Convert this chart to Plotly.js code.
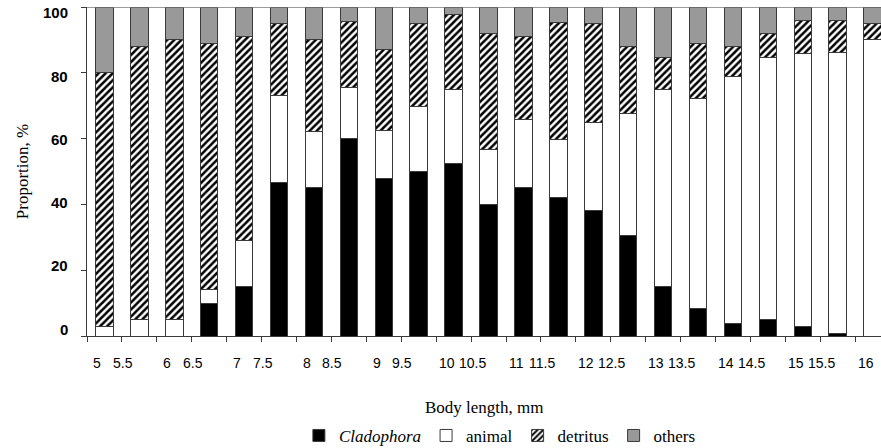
<!DOCTYPE html>
<html>
<head>
<meta charset="utf-8">
<script src="https://cdn.plot.ly/plotly-3.0.1.min.js"></script>
<style>html,body{margin:0;padding:0;background:#fff;}#chart{width:881px;height:448px;}</style>
</head>
<body>
<div id="chart"></div>
<script>
// Body length categories (mm)
const bodyLength = [5, 5.5, 6, 6.5, 7, 7.5, 8, 8.5, 9, 9.5, 10, 10.5, 11, 11.5, 12, 12.5, 13, 13.5, 14, 14.5, 15, 15.5, 16];
const categories = bodyLength.map(String);
// Proportions, %
const cladophora = [0, 0, 0, 10, 15, 46.7, 45, 60, 48, 50, 52.3, 40, 45, 42, 38, 30.6, 15, 8.4, 3.9, 4.9, 3, 0.9, 0];
const animal     = [3, 5, 5, 4, 14, 26.3, 17.3, 15.4, 14.6, 19.9, 22.6, 16.8, 20.9, 17.8, 27, 37.1, 59.9, 63.8, 75.1, 79.8, 83, 85.3, 90.1];
const detritus   = [77, 83, 85, 75, 62, 22, 27.7, 20.1, 24.6, 25.2, 22.8, 35.1, 25.2, 35.5, 30.1, 20.3, 9.9, 16.7, 9, 7.3, 9.9, 9.7, 5];
const others     = [20, 12, 10, 11, 9, 5, 10, 4.5, 12.8, 4.9, 2.3, 8.1, 8.9, 4.7, 4.9, 12, 15.2, 11.1, 12, 8, 4.1, 4.1, 4.9];
// Tick labels
const tickLabels = ["5","5.5","6","6.5","7","7.5","8","8.5","9","9.5","10","10.5","11","11.5","12","12.5","13","13.5","14","14.5","15","15.5","16"];
const yTicks = [0, 20, 40, 60, 80, 100];
const seriesNames = ['Cladophora', 'animal', 'detritus', 'others'];

const serif = 'Liberation Serif';
const sans = 'Liberation Sans';
const lineStyle = {color: '#3a3a3a', width: 1};

const traces = [
  {name: '<i>' + seriesNames[0] + '</i>', y: cladophora, marker: {color: '#000000', line: lineStyle}},
  {name: seriesNames[1], y: animal, marker: {color: '#ffffff', line: lineStyle}},
  {name: seriesNames[2], y: detritus, marker: {color: '#ffffff', line: lineStyle,
      pattern: {shape: '/', fgcolor: '#000000', bgcolor: '#ffffff', size: 5, solidity: 0.5}}},
  {name: seriesNames[3], y: others, marker: {color: '#999999', line: lineStyle}}
].map(t => Object.assign({type: 'bar', x: categories, hoverinfo: 'skip'}, t));

// label placement (layout only): the original figure's labels sit in pairs / slightly compressed
const labelPos = bodyLength.map(v => Number.isInteger(v) ? 2 * (v - 5) - 0.2 : 2 * (v - 5.5) + 0.53);
const xLabelAnn = tickLabels.map((t, i) => ({
  text: t, xref: 'x', yref: 'paper', x: labelPos[i], y: -0.082, xanchor: 'center', yanchor: 'middle',
  showarrow: false, font: {family: sans, size: 14, color: '#000'}
}));
const yLabelAnn = yTicks.map(v => ({
  text: String(v), xref: 'paper', yref: 'y', x: -0.021, y: v * 0.961 + 2.1, xanchor: 'right', yanchor: 'middle',
  showarrow: false, font: {family: sans, size: 15, color: '#000', weight: 'bold'}
}));

const layout = {
  width: 881, height: 448,
  margin: {l: 87, r: 0, t: 7, b: 112},
  paper_bgcolor: '#ffffff', plot_bgcolor: '#ffffff',
  barmode: 'stack', bargap: 0.5,
  font: {family: serif, color: '#000'},
  showlegend: true,
  legend: {orientation: 'h', x: 0.52, xanchor: 'center', yref: 'container', y: 0.027, yanchor: 'middle',
           font: {family: serif, size: 17, color: '#000'}, traceorder: 'normal'},
  xaxis: {type: 'category', range: [-0.5, 22.24], showticklabels: false, ticks: 'outside', tickson: 'boundaries',
          ticklen: 5, tickcolor: '#3a3a3a', showline: true, linecolor: '#3a3a3a', linewidth: 1,
          showgrid: false, zeroline: false, fixedrange: true},
  yaxis: {range: [0, 100], tickmode: 'array', tickvals: yTicks, showticklabels: false,
          ticks: 'outside', ticklen: 5, tickcolor: '#3a3a3a',
          showline: true, linecolor: '#3a3a3a', linewidth: 1, showgrid: false, zeroline: false,
          title: {text: 'Proportion, %', font: {family: serif, size: 17}, standoff: 48}},
  shapes: [{type: 'line', xref: 'paper', yref: 'y', x0: 0, x1: 1, y0: 100, y1: 100,
            line: {color: '#7a7a7a', width: 1.5}}],
  annotations: [{text: 'Body length, mm', xref: 'paper', yref: 'paper', x: 0.5, y: -0.216,
                 xanchor: 'center', yanchor: 'middle', showarrow: false,
                 font: {family: serif, size: 17, color: '#000'}}].concat(xLabelAnn, yLabelAnn)
};

Plotly.newPlot('chart', traces, layout, {staticPlot: true, displayModeBar: false});
</script>
</body>
</html>
